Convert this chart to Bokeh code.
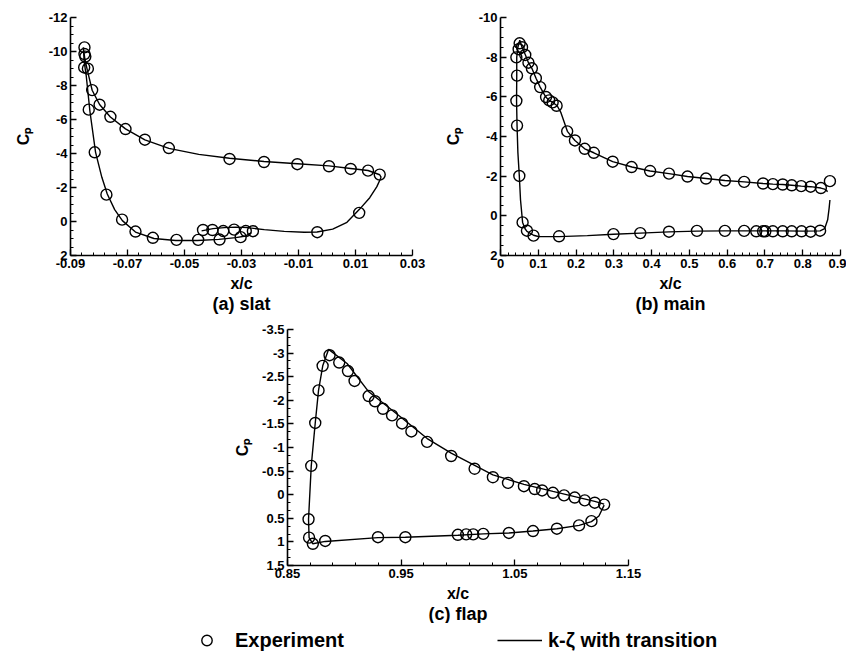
import numpy as np
from bokeh.plotting import figure
from bokeh.models import (Range1d, FixedTicker, CustomJSTickFormatter, Title,
                          Legend, LegendItem, Spacer)
from bokeh.layouts import column, row
from bokeh.embed import file_html
from bokeh.resources import INLINE

FONT = "Liberation Sans"

# ---------------- (a) slat ----------------
slat_exp_up_x = [-0.0851, -0.0851, -0.0848, -0.0852, -0.0839, -0.0824, -0.0798, -0.0760, -0.0707,
                 -0.0639, -0.0555, -0.0342, -0.0221, -0.0104, 0.0007, 0.0083, 0.0144, 0.0185]
slat_exp_up_cp = [-10.24, -9.85, -9.70, -9.06, -8.99, -7.73, -6.87, -6.16, -5.44,
                  -4.81, -4.32, -3.68, -3.50, -3.37, -3.25, -3.09, -2.99, -2.76]
slat_exp_lo_x = [-0.0836, -0.0815, -0.0774, -0.0719, -0.0672, -0.0611, -0.0528, -0.0452,
                 -0.0377, -0.0303, -0.0034, 0.0113]
slat_exp_lo_cp = [-6.58, -4.07, -1.58, -0.11, 0.59, 0.96, 1.08, 1.08, 1.06, 0.92, 0.63, -0.51]
slat_exp_cove_x = [-0.0435, -0.0402, -0.0364, -0.0326, -0.0285, -0.0260]
slat_exp_cove_cp = [0.50, 0.50, 0.56, 0.48, 0.56, 0.57]

slat_cfd_x = [0.0190, 0.0185, 0.0144, 0.0083, 0.0007, -0.0104, -0.0221, -0.0342, -0.0450, -0.0555,
              -0.0639, -0.0707, -0.0760, -0.0798, -0.0824, -0.0841, -0.0850, -0.0855, -0.0852,
              -0.0845, -0.0832, -0.0812, -0.0790, -0.0771, -0.0745, -0.0718, -0.0672, -0.0607,
              -0.0531, -0.0455, -0.0380, -0.0320, -0.0285, -0.0265]
slat_cfd_cp = [-2.60, -2.75, -3.00, -3.12, -3.27, -3.40, -3.53, -3.72, -3.95, -4.30,
               -4.80, -5.45, -6.15, -6.88, -7.72, -8.90, -9.60, -10.25, -9.40,
               -8.60, -6.50, -4.07, -2.60, -1.62, -0.70, -0.05, 0.62, 1.00,
               1.12, 1.12, 1.05, 0.95, 0.85, 0.65]
slat_cove_x = [-0.0440, -0.0400, -0.0360, -0.0320, -0.0280, -0.0220, -0.0150, -0.0080, -0.0035,
               0.0020, 0.0070, 0.0113, 0.0150, 0.0175, 0.0190]
slat_cove_cp = [0.55, 0.42, 0.36, 0.33, 0.36, 0.48, 0.58, 0.63, 0.62, 0.45, 0.05, -0.70, -1.40,
                -2.05, -2.60]

slat_xticks = [-0.09, -0.07, -0.05, -0.03, -0.01, 0.01, 0.03]
slat_xlabels = ["-0.09", "-0.07", "-0.05", "-0.03", "-0.01", "0.01", "0.03"]
slat_yticks = [-12, -10, -8, -6, -4, -2, 0, 2]
slat_ylabels = ["-12", "-10", "-8", "-6", "-4", "-2", "0", "2"]

# ---------------- (b) main ----------------
main_exp_up_x = [0.0507, 0.048, 0.057, 0.0655, 0.074, 0.083, 0.0936, 0.105, 0.1206, 0.129, 0.138,
                 0.1485, 0.1765, 0.197, 0.223, 0.247, 0.297, 0.347, 0.396, 0.446, 0.495, 0.544,
                 0.594, 0.645, 0.695, 0.721, 0.747, 0.771, 0.796, 0.821, 0.848, 0.872]
main_exp_up_cp = [-8.70, -8.40, -8.50, -8.11, -7.72, -7.44, -6.94, -6.49, -5.99, -5.82, -5.72,
                  -5.55, -4.26, -3.80, -3.38, -3.18, -2.73, -2.46, -2.26, -2.13, -1.98, -1.88,
                  -1.78, -1.71, -1.63, -1.60, -1.58, -1.54, -1.50, -1.47, -1.40, -1.75]
main_exp_lo_x = [0.042, 0.0438, 0.042, 0.0438, 0.0498, 0.0585, 0.070, 0.0874, 0.155, 0.299, 0.370,
                 0.446, 0.520, 0.594, 0.645, 0.677, 0.695, 0.701, 0.721, 0.747, 0.771, 0.797,
                 0.821, 0.846]
main_exp_lo_cp = [-7.99, -7.07, -5.80, -4.55, -2.01, 0.33, 0.75, 1.00, 1.03, 0.92, 0.87,
                  0.80, 0.76, 0.76, 0.76, 0.78, 0.78, 0.78, 0.78, 0.78, 0.78, 0.78, 0.80, 0.75]

main_cfd_x = [0.866, 0.858, 0.848, 0.821, 0.796, 0.771, 0.747, 0.721, 0.695, 0.645, 0.594, 0.544,
              0.495, 0.446, 0.396, 0.348, 0.297, 0.247, 0.223, 0.197, 0.177, 0.160, 0.150, 0.138,
              0.129, 0.120, 0.105, 0.094, 0.083, 0.074, 0.066, 0.057, 0.051, 0.046, 0.043, 0.043,
              0.0425, 0.0438, 0.046, 0.0498, 0.053, 0.0585, 0.065, 0.070, 0.0874, 0.100, 0.155,
              0.230, 0.299, 0.370, 0.446, 0.520, 0.594, 0.645, 0.700, 0.750, 0.800, 0.846, 0.858,
              0.866, 0.870, 0.872]
main_cfd_cp = [-1.22, -1.35, -1.40, -1.47, -1.50, -1.54, -1.58, -1.60, -1.63, -1.71, -1.78, -1.88,
               -1.98, -2.13, -2.26, -2.46, -2.73, -3.18, -3.38, -3.80, -4.26, -5.20, -5.55, -5.72,
               -5.82, -5.99, -6.49, -6.94, -7.44, -7.72, -8.11, -8.50, -8.85, -8.50, -8.00, -7.07,
               -5.80, -4.55, -3.20, -2.01, -0.80, 0.33, 0.65, 0.78, 0.98, 1.04, 1.05,
               1.00, 0.93, 0.87, 0.81, 0.77, 0.76, 0.76, 0.76, 0.76, 0.77, 0.76, 0.65,
               0.20, -0.40, -0.80]

main_xticks = [0, 0.1, 0.2, 0.3, 0.4, 0.5, 0.6, 0.7, 0.8, 0.9]
main_xlabels = ["0", "0.1", "0.2", "0.3", "0.4", "0.5", "0.6", "0.7", "0.8", "0.9"]
main_yticks = [-10, -8, -6, -4, -2, 0, 2]
main_ylabels = ["-10", "-8", "-6", "-4", "-2", "0", "2"]

# ---------------- (c) flap ----------------
flap_exp_up_x = [0.887, 0.8955, 0.9032, 0.909, 0.9214, 0.927, 0.934, 0.942, 0.9508, 0.959, 0.9728,
                 0.994, 1.0146, 1.0307, 1.0440, 1.058, 1.0675, 1.074, 1.0835, 1.0933, 1.1027,
                 1.1115, 1.1203, 1.1286]
flap_exp_up_cp = [-2.955, -2.80, -2.62, -2.41, -2.09, -1.98, -1.82, -1.68, -1.51, -1.34, -1.12,
                  -0.82, -0.55, -0.37, -0.25, -0.18, -0.12, -0.09, -0.04, 0.015, 0.06,
                  0.12, 0.17, 0.21]
flap_exp_lo_x = [0.8809, 0.8773, 0.8744, 0.8709, 0.8685, 0.869, 0.8723, 0.8832, 0.9296, 0.9537,
                 0.9999, 1.0072, 1.0134, 1.0222, 1.0448, 1.066, 1.087, 1.1065, 1.1174]
flap_exp_lo_cp = [-2.73, -2.21, -1.52, -0.61, 0.52, 0.91, 1.04, 0.98, 0.90, 0.90,
                  0.85, 0.84, 0.84, 0.83, 0.81, 0.77, 0.72, 0.65, 0.56]

flap_cfd_x = [1.1286, 1.1203, 1.1027, 1.0835, 1.0580, 1.0307, 0.9940, 0.9729, 0.9493, 0.9215,
              0.9024, 0.8862, 0.8810, 0.8773, 0.8744, 0.8709, 0.8685, 0.8690, 0.8723, 0.8832,
              0.9296, 0.9537, 0.9999, 1.0222, 1.0448, 1.0660, 1.0870, 1.1065, 1.1174, 1.1240,
              1.1286]
flap_cfd_cp = [0.20, 0.14, 0.04, -0.07, -0.22, -0.42, -0.88, -1.19, -1.65, -2.18,
               -2.78, -3.08, -2.73, -2.21, -1.52, -0.61, 0.52, 0.91, 1.04, 0.99,
               0.91, 0.90, 0.86, 0.83, 0.81, 0.77, 0.72, 0.65, 0.57, 0.45,
               0.22]

flap_xticks = [0.85, 0.95, 1.05, 1.15]
flap_xlabels = ["0.85", "0.95", "1.05", "1.15"]
flap_yticks = [-3.5, -3, -2.5, -2, -1.5, -1, -0.5, 0, 0.5, 1, 1.5]
flap_ylabels = ["-3.5", "-3", "-2.5", "-2", "-1.5", "-1", "-0.5", "0", "0.5", "1", "1.5"]

legend_labels = ["Experiment", "k-\u03b6 with transition"]
panel_titles = ["(a) slat", "(b) main", "(c) flap"]

JS = """
for (let i = 0; i < tv.length; i++) {
  if (Math.abs(tv[i] - tick) < 1e-9) { return tl[i]; }
}
return "";
"""

MARK = dict(marker="circle", size=11, fill_color=None, line_color="black", line_width=1.4)
LINE = dict(line_color="black", line_width=1.4)


def minor(ticks, n):
    out = []
    for a, b in zip(ticks[:-1], ticks[1:]):
        step = (b - a) / n
        out += [a + k * step for k in range(1, n)]
    return out


def make(width, height, xr, yr, borders, xt, xl, xn, yt, yl, yn, title, ystand):
    l, r, t, b = borders
    p = figure(width=width, height=height, x_range=Range1d(*xr), y_range=Range1d(*yr),
               output_backend="svg", toolbar_location=None, title=None,
               min_border_left=l, min_border_right=r, min_border_top=t, min_border_bottom=b)
    p.outline_line_color = None
    p.xgrid.visible = False
    p.ygrid.visible = False
    p.background_fill_color = "white"
    p.border_fill_color = "white"
    p.xaxis.ticker = FixedTicker(ticks=xt, minor_ticks=minor(xt, xn))
    p.yaxis.ticker = FixedTicker(ticks=yt, minor_ticks=minor(yt, yn))
    p.xaxis.formatter = CustomJSTickFormatter(args=dict(tv=xt, tl=xl), code=JS)
    p.yaxis.formatter = CustomJSTickFormatter(args=dict(tv=yt, tl=yl), code=JS)
    p.xaxis.axis_label = "x/c"
    p.yaxis.axis_label = "C\u209a"
    for ax in (p.xaxis[0], p.yaxis[0]):
        ax.axis_line_width = 1.6
        ax.axis_line_color = "black"
        ax.major_tick_in = 6
        ax.major_tick_out = 0
        ax.minor_tick_in = 3
        ax.minor_tick_out = 0
        ax.major_tick_line_width = 1.3
        ax.minor_tick_line_width = 1
        ax.major_tick_line_color = "black"
        ax.minor_tick_line_color = "black"
        ax.major_label_text_font = FONT
        ax.major_label_text_font_style = "bold"
        ax.major_label_text_font_size = "13px"
        ax.major_label_text_color = "black"
        ax.major_label_standoff = 3
        ax.axis_label_text_font = FONT
        ax.axis_label_text_font_style = "bold"
        ax.axis_label_text_font_size = "16px"
        ax.axis_label_text_color = "black"
    p.xaxis.axis_label_standoff = 4
    p.yaxis.axis_label_standoff = ystand
    p.add_layout(Title(text=title, align="center", text_font=FONT, text_font_size="18px",
                       text_font_style="bold", text_color="black", standoff=-6), "below")
    return p


def draw(p, ex_sets, cfd_sets):
    for x, y in cfd_sets:
        p.line(x, y, **LINE)
    for x, y in ex_sets:
        p.scatter(x, y, **MARK)


p1 = make(432, 319, (-0.09, 0.03), (2, -12), (70, 20, 17, 64),
          slat_xticks, slat_xlabels, 5, slat_yticks, slat_ylabels, 4, panel_titles[0], 14)
draw(p1, [(slat_exp_up_x, slat_exp_up_cp), (slat_exp_lo_x, slat_exp_lo_cp),
          (slat_exp_cove_x, slat_exp_cove_cp)],
     [(slat_cfd_x, slat_cfd_cp), (slat_cove_x, slat_cove_cp)])

p2 = make(414, 319, (0, 0.9), (2, -10), (68, 6, 17, 64),
          main_xticks, main_xlabels, 5, main_yticks, main_ylabels, 4, panel_titles[1], 14)
draw(p2, [(main_exp_up_x, main_exp_up_cp), (main_exp_lo_x, main_exp_lo_cp)],
     [(main_cfd_x, main_cfd_cp)])

p3 = make(421, 304, (0.85, 1.15), (1.5, -3.5), (60, 20, 10, 58),
          flap_xticks, flap_xlabels, 5, flap_yticks, flap_ylabels, 3, panel_titles[2], 8)
draw(p3, [(flap_exp_up_x, flap_exp_up_cp), (flap_exp_lo_x, flap_exp_lo_cp)],
     [(flap_cfd_x, flap_cfd_cp)])

# legend strip: its renderers hold the flap data, kept outside the strip's visible range
pl = figure(width=846, height=30, x_range=Range1d(0, 1), y_range=Range1d(50, 51),
            output_backend="svg", toolbar_location=None, title=None,
            x_axis_type=None, y_axis_type=None, min_border=0)
pl.outline_line_color = None
pl.xgrid.visible = False
pl.ygrid.visible = False
r_exp = pl.scatter(flap_exp_up_x, flap_exp_up_cp, **MARK)
r_line = pl.line(flap_cfd_x, flap_cfd_cp, **LINE)
legend = Legend(items=[LegendItem(label=legend_labels[0], renderers=[r_exp]),
                       LegendItem(label=legend_labels[1], renderers=[r_line])],
                orientation="horizontal", location=(184, 0),
                border_line_color=None, background_fill_alpha=0,
                label_text_font=FONT, label_text_font_size="20px", label_text_font_style="bold",
                label_text_color="black", glyph_width=45, glyph_height=26, spacing=153,
                padding=0, margin=0, label_standoff=6)
pl.add_layout(legend, "center")

layout = column(row(p1, p2), row(Spacer(width=227, height=304), p3), pl)

with open("out.html", "w") as f:
    f.write(file_html(layout, INLINE))
